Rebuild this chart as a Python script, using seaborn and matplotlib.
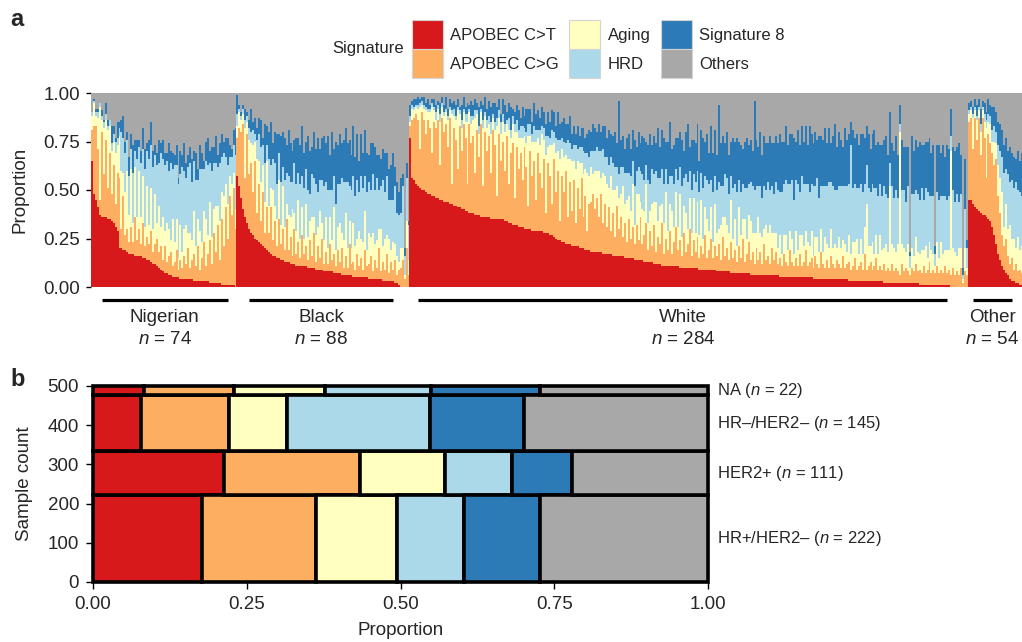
import numpy as np
import pandas as pd
import matplotlib
matplotlib.use("Agg")
import matplotlib.pyplot as plt
from matplotlib.patches import Patch
from matplotlib.transforms import blended_transform_factory
import seaborn as sns

# --- Panel a: per-sample signature proportions (percent) ---
# Nigerian (n = 74)
nig_ct = [65,48,45,41,37,36,36,36,35,35,34,33,31,29,20,20,19,19,18,17,17,17,16,16,16,16,15,15,14,14,
          13,12,12,11,10,9,8,7,7,6,6,5,5,5,5,4,4,4,4,4,4,4,3,3,3,3,3,3,3,3,2,2,2,2,2,2,1,1,1,1,1,1,1,0]
nig_cg = [16,35,38,30,8,44,22,40,16,34, 14,30,12,30,36,10,28,8,12,6, 14,6,20,8,14,6,18,6,12,8,
          16,6,10,14,8,12,6,14,6,10, 12,6,8,14,4,10,6,12,8,16, 6,10,14,8,18,6,12,20,8,14,
          22,10,26,16,30,12,34,20,40,24, 46,36,50,30]
nig_aging = [7,12,5,16,48,6,24,10,30,14, 22,12,26,14,22,30,12,22,30,14, 30,10,26,12,30,14,24,10,26,10,
             22,12,26,8,24,10,22,8,20,14, 6,24,10,16,6,18,8,14,20,8, 18,10,22,10,14,20,8,16,24,10,
             20,14,12,24,10,20,14,26,12,18, 10,16,8,10]
nig_hrd = [2,1,2,3,2,2,3,3,2,3, 4,4,6,4,4,20,18,20,16,20, 10,26,8,30,12,28,14,30,18,34,
           22,32,20,30,22,38,30,34,32,30, 40,26,40,28,38,26,44,30,24,34, 36,30,26,34,20,32,38,22,30,36,
           20,34,24,22,20,30,18,22,14,20, 10,14,14,28]
nig_sig8 = [0,1,2,2,0,3,1,6,3,0, 9,4,2,8,3,6,11,6,4,10, 8,14,6,10,4,6,11,10,4,10,
            12,8,5,6,12,5,10,6,4,14, 6,8,5,10,3,12,6,14,8,6, 8,12,5,14,6,12,8,4,10,14,
            6,12,8,14,6,10,12,6,10,14, 6,4,8,14]

# Black (n = 88)
blk_ct = [57,52,46,40,36,33,30,28,27,25, 24,23,22,21,20,19,18,17,16,16, 15,15,14,14,13,13,13,12,12,12,
          11,11,11,11,11,11,10,10,10,10, 9,9,9,9,8,8,8,8,8,7, 7,7,7,6,6,6,6,6,6,5,
          5,5,5,5,5,5,5,4,4,4, 4,4,4,4,3,3,3,3,3,3, 2,2,1,0,0,0,0,0]
blk_cg = [20,30,34,44,20,46,28,36,22,40, 14,30,12,28,8,22,10,24,8,18, 6,20,8,16,6,22,6,14,4,18,
          6,12,4,16,6,10,4,14,6,18, 4,12,6,16,4,10,4,14,6,10, 4,12,6,14,4,10,4,16,6,8,
          4,12,6,10,4,14,6,8,12,4, 10,6,16,4,10,6,14,4,10,6, 12,4,8,10,14,4,20,6]
blk_aging = [6,8,6,5,26,6,18,10,24,10, 28,12,20,14,16,24,14,10,26,8, 14,20,10,22,12,8,18,10,24,8,
             12,22,10,14,8,22,12,10,20,8, 14,10,24,8,12,18,8,14,10,24, 8,12,20,8,14,22,10,12,8,20,
             12,8,18,10,14,20,8,16,10,20, 8,14,10,22,8,16,10,18,6,14, 8,10,4,10,6,2,14,8]
blk_hrd = [6,2,2,3,4,3,6,6,8,4, 10,14,18,10,20,8,24,12,16,22, 18,14,22,10,24,16,20,18,14,26,
           24,14,28,16,26,18,24,14,22,20, 26,18,16,22,28,18,30,14,26,16, 24,22,20,28,30,16,34,18,30,24,
           26,30,20,32,28,18,30,26,24,30, 28,32,20,22,34,24,30,20,26,22, 30,22,24,18,32,10,22,18]
blk_sig8 = [10,2,2,2,6,2,4,12,4,8, 6,8,14,4,20,10,14,22,8,16, 26,10,24,18,22,14,24,20,16,12,
            24,18,20,26,18,14,28,22,14,24, 18,28,16,22,26,20,28,18,30,14, 32,20,26,18,22,28,20,24,18,26,
            20,24,16,22,18,24,20,14,24,16, 22,12,18,14,16,20,12,16,18,24, 10,16,12,18,6,4,8,2]

# White (n = 284)
wht_ct = [77,56,55,53,52,51,50,50,49,48, 48,47,47,46,46,45,45,44,44,44, 43,43,42,42,41,41,40,40,39,39,
          38,38,38,37,37,37,36,36,36,36, 36,35,35,35,35,35,35,35,34,34, 33,33,32,32,32,31,31,31,30,30,
          30,30,29,29,29,29,29,29,28,28, 28,27,27,26,25,24,24,23,23,22, 22,22,21,21,21,21,20,20,20,19,
          19,19,18,18,18,18,18,18,17,17, 17,17,17,16,16,16,16,16,16,15, 15,15,15,15,14,14,14,14,14,13,
          13,13,13,13,12,12,12,12,11,11, 11,11,11,11,11,11,11,10,10,10, 10,10,10,10,10,10,10,9,9,9,
          9,9,9,9,9,9,8,8,8,8, 8,8,8,7,7,7,7,7,7,7, 7,7,7,6,6,6,6,6,6,6,
          6,6,6,6,6,6,6,6,5,5, 5,5,5,5,5,5,5,5,5,5, 5,5,5,5,5,4,4,4,4,4,
          4,4,4,4,4,4,4,4,4,4, 4,4,4,3,3,3,3,3,3,3, 3,3,3,3,3,3,3,3,3,3,
          3,2,2,2,2,2,2,2,2,2, 2,2,2,2,2,2,2,2,2,1, 1,1,1,1,1,1,1,1,1,1,
          1,1,1,1,1,0,0,0,0,0, 0,0,0,0]
wht_cg = [6,30,32,36,34,20,40,36,30,38, 34,22,38,36,40,18,42,36,40,28, 44,10,40,34,20,42,30,44,38,14,
          46,36,40,22,44,30,48,16,44,34, 42,24,46,38,12,44,30,40,26,44, 20,36,42,14,40,30,38,24,42,32,
          12,40,28,36,16,40,30,22,38,10, 36,30,16,40,24,36,10,34,26,38, 14,32,18,34,12,30,20,36,16,28,
          10,24,26,30,22,28,18,30,16,26, 14,24,12,22,10,26,14,20,10,18, 8,20,10,16,8,18,10,22,8,14,
          20,6,16,8,20,6,14,10,22,6, 14,8,18,6,12,20,8,14,6,18, 8,12,20,6,14,8,16,6,12,8,
          18,6,10,16,6,12,8,14,6,18, 8,12,6,16,8,12,6,14,8,18, 6,10,16,8,12,6,14,8,12,6,
          16,8,10,6,14,8,12,6,10,6, 12,8,6,14,8,6,10,6,12,6, 8,14,6,8,10,6,12,8,6,14,
          8,6,10,6,12,8,6,10,8,6, 12,6,8,10,6,8,12,6,8,10, 6,14,6,8,10,6,8,12,6,8,
          6,10,6,8,6,10,6,8,6,4, 10,6,8,6,4,8,6,10,6,8, 6,10,6,8,12,6,8,6,10,6,
          8,6,10,6,8,6,10,6,8,6, 10,2,8,6]
wht_aging = [2,6,4,4,6,22,4,6,12,4, 8,24,6,4,6,22,6,8,6,14, 4,36,6,10,30,6,12,6,8,32,
             6,10,8,28,8,12,6,30,8,12, 6,20,6,8,36,8,14,10,20,6, 28,8,10,34,8,16,8,22,6,12,
             36,8,18,10,30,8,14,28,10,30, 8,16,30,8,20,10,32,14,18,8, 30,12,26,10,28,14,24,8,22,14,
             30,14,18,10,20,14,24,8,26,14, 22,10,28,12,24,10,16,12,26,10, 22,12,14,22,10,16,24,8,18,12,
             20,14,10,22,12,26,8,20,10,16, 24,10,14,22,8,18,12,24,10,14, 20,8,16,12,22,10,18,12,24,8,
             14,20,10,16,8,22,12,8,18,10, 20,12,14,22,10,16,8,20,12,10, 22,8,14,20,10,16,8,22,10,14,
             8,18,12,20,8,14,10,8,12,6, 10,14,8,10,12,6,14,8,10,16, 8,10,12,8,14,6,10,14,8,12,
             6,16,8,10,14,8,12,6,14,10, 8,12,6,14,8,12,8,16,6,12, 8,14,34,10,8,14,6,12,8,16,
             10,8,14,8,44,10,12,8,14,74, 10,12,8,14,4,10,8,14,10,8, 12,8,14,6,10,12,8,4,12,8,
             14,10,8,12,10,64,10,12,8,14, 10,2,12,4]
wht_hrd = [3,2,2,1,2,2,2,2,2,2, 2,2,2,4,2,4,2,2,2,2, 2,2,4,2,2,2,4,2,4,4,
           2,4,2,4,2,4,2,4,2,4, 4,6,2,4,4,4,6,4,4,2, 6,4,4,4,6,4,6,6,4,6,
           6,6,4,8,6,4,8,4,6,10, 6,4,8,6,8,6,10,6,8,6, 10,8,6,8,12,6,8,8,12,8,
           10,10,8,12,10,12,10,14,12,10, 14,12,10,14,12,10,12,14,10,16, 14,12,18,12,20,12,14,16,18,16,
           10,22,14,18,14,16,22,14,18,20, 12,24,14,18,22,12,24,14,26,14, 20,24,14,22,12,26,16,22,14,26,
           16,20,24,14,26,14,22,24,20,16, 22,24,20,12,26,18,28,14,22,18, 16,26,16,20,24,22,24,16,24,20,
           22,18,26,18,24,20,26,30,22,32, 26,28,34,24,30,28,26,34,22,30, 32,24,30,28,24,36,26,30,28,22,
           34,26,30,34,24,32,28,30,26,32, 28,30,34,26,56,28,30,26,34,28, 32,22,20,30,28,30,34,24,30,26,
           28,32,26,28,12,30,26,32,24,4, 28,30,26,30,6,28,32,24,30,28, 32,26,30,34,24,28,30,6,26,30,
           24,30,28,26,28,8,30,26,32,24, 28,2,20,10]
wht_sig8 = [6,2,4,3,4,2,2,4,2,5, 2,2,4,4,2,6,3,4,6,4, 4,4,4,6,4,2,8,6,4,6,
            2,8,6,6,4,10,4,8,8,6, 8,8,6,10,6,6,4,8,10,4, 8,12,4,6,8,10,4,10,6,12,
            8,8,6,12,8,10,6,10,8,6, 12,8,10,10,6,14,8,8,12,10, 8,14,8,10,6,12,6,10,12,8,
            10,14,10,14,12,8,14,10,12,16, 10,18,12,14,18,12,38,14,16,12, 18,20,14,16,24,12,18,14,20,22,
            12,18,26,12,20,14,26,16,20,24, 14,22,28,14,20,16,22,18,24,14, 22,30,12,26,18,20,24,16,22,26,
            18,24,16,28,20,24,18,40,22,26, 16,24,20,18,26,22,28,20,24,18, 24,26,20,22,18,46,24,20,28,22,
            26,24,20,28,22,26,24,24,30,26, 22,28,20,26,24,32,20,28,24,26, 22,30,20,34,26,22,28,20,32,26,
            24,30,22,28,20,26,34,22,28,24, 20,30,24,26,12,30,24,28,22,26, 30,24,20,28,22,26,30,22,28,20,
            26,24,30,22,26,22,24,28,22,10, 26,22,28,20,2,30,22,26,24,30, 22,28,24,26,30,22,26,4,24,28,
            22,26,20,28,24,14,22,26,24,30, 20,4,26,4]

# Other (n = 54; the right part of this group is cut off by the figure edge)
oth_ct = [45,45,43,41,40,39,38,37,37,36, 35,34,31,27,22,17,14,11,9,7, 6,4,3,3,2,2,1,1,1,1,
          1,1,1,0,0,0,0,0,0,0, 0,0,0,0,0,0,0,0,0,0, 0,0,0,0]
oth_cg = [40,42,28,46,36,48,30,50,40,20, 44,40,38,36,44,30,24,16,12,18, 10,8,12,6,10,6,8,6,10,6,
          8,6,10,6,8,6,10,6,8,6, 10,6,8,6,10,6,8,6,10,6, 8,6,10,6]
oth_aging = [4,4,16,4,10,4,12,4,8,26, 6,10,6,12,8,16,18,22,10,18, 14,20,10,16,8,18,10,14,10,14,
             10,16,8,12,14,10,12,8,14,10, 12,8,16,10,12,8,14,10,12,8, 14,10,12,8]
oth_hrd = [2,2,2,2,2,2,4,2,4,4, 4,4,6,8,6,10,14,18,28,18, 28,22,30,26,34,24,30,26,28,30,
           26,28,30,26,28,30,24,32,26,28, 24,30,26,28,24,30,26,28,24,30, 26,28,24,30]
oth_sig8 = [4,3,4,4,6,4,8,3,6,4, 8,6,12,10,10,12,14,14,14,16, 12,18,14,16,12,20,16,22,18,20,
            22,18,20,24,18,22,20,18,22,20, 24,18,20,22,18,20,22,18,20,22, 18,20,22,18]

groups = ["Nigerian", "Black", "White", "Other"]
group_n = [74, 88, 284, 54]
# where the black underline under each group label starts / ends (sample index)
line_start = [5, 80, 166, 448]
line_end = [69, 153, 435, 468]

# --- Panel b: mean signature proportions by subtype ---
subtypes = ["HR+/HER2–", "HER2+", "HR–/HER2–", "NA"]
subtype_n = [222, 111, 145, 22]
b_ct = [0.177, 0.213, 0.078, 0.083]
b_cg = [0.186, 0.221, 0.143, 0.147]
b_aging = [0.131, 0.139, 0.094, 0.148]
b_hrd = [0.110, 0.108, 0.233, 0.171]
b_sig8 = [0.123, 0.098, 0.152, 0.178]
b_others = [0.273, 0.221, 0.300, 0.273]

sig_names = ["APOBEC C>T", "APOBEC C>G", "Aging", "HRD", "Signature 8", "Others"]
palette = {"APOBEC C>T": "#D7191C", "APOBEC C>G": "#FDAE61", "Aging": "#FFFFBF",
           "HRD": "#ABD9E9", "Signature 8": "#2C7BB6", "Others": "#A8A8A8"}

# ---------------------------------------------------------------------------
sns.set_style("ticks")
plt.rcParams["font.family"] = ["Liberation Sans", "DejaVu Sans"]
plt.rcParams["mathtext.fontset"] = "custom"
plt.rcParams["mathtext.it"] = "Liberation Sans:italic"
plt.rcParams["mathtext.rm"] = "Liberation Sans"

ct = nig_ct + blk_ct + wht_ct + oth_ct
cg = nig_cg + blk_cg + wht_cg + oth_cg
aging = nig_aging + blk_aging + wht_aging + oth_aging
hrd = nig_hrd + blk_hrd + wht_hrd + oth_hrd
sig8 = nig_sig8 + blk_sig8 + wht_sig8 + oth_sig8
for arr in (ct, cg, aging, hrd, sig8):
    assert len(arr) == sum(group_n), len(arr)
others = [max(0, 100 - a - b - c - d - e) for a, b, c, d, e in zip(ct, cg, aging, hrd, sig8)]

long_rows = []
for name, vals in zip(sig_names, [ct, cg, aging, hrd, sig8, others]):
    for i, v in enumerate(vals):
        long_rows.append((i, name, v / 100.0))
df = pd.DataFrame(long_rows, columns=["sample", "signature", "proportion"])

W, H = 1022, 642
fig = plt.figure(figsize=(W / 100, H / 100), dpi=100)
fig.patch.set_facecolor("white")

# panel a axes is wider than the figure: the "Other" group runs off the right edge
ax_a = fig.add_axes([91 / W, (H - 287) / H, 983 / W, 194 / H])
sns.histplot(data=df, x="sample", weights="proportion", hue="signature",
             hue_order=sig_names[::-1], palette=palette, multiple="stack",
             discrete=True, shrink=1, element="bars", alpha=1, linewidth=0,
             antialiased=False, legend=False, ax=ax_a)
ax_a.set_xlim(-0.5, sum(group_n) - 0.5)
ax_a.set_ylim(0, 1)
ax_a.set_xticks([])
ax_a.set_yticks([0, 0.25, 0.5, 0.75, 1.0])
ax_a.set_yticklabels(["0.00", "0.25", "0.50", "0.75", "1.00"])
ax_a.tick_params(axis="y", labelsize=13.5, length=3.5, width=1, pad=4.5, color="black")
ax_a.set_xlabel("")
ax_a.set_ylabel("Proportion", fontsize=13.5)
ax_a.yaxis.set_label_coords(-0.064, 0.5)
for s in ax_a.spines.values():
    s.set_visible(False)

trans = blended_transform_factory(ax_a.transData, ax_a.transAxes)
for g, n, x0, x1 in zip(groups, group_n, line_start, line_end):
    ax_a.plot([x0, x1], [-0.067, -0.067], color="black", lw=2.3, transform=trans,
              clip_on=False, solid_capstyle="butt")
    xc = (x0 + x1) / 2
    ax_a.text(xc, -0.155, g, transform=trans, ha="center", va="center", fontsize=13.5)
    ax_a.text(xc, -0.273, r"$n$ = %d" % n, transform=trans, ha="center", va="center",
              fontsize=13.5)

# legend (three columns of two swatches that touch each other)
handles = [Patch(facecolor=palette[s], edgecolor="#d4d4d4", linewidth=0.8) for s in sig_names]
fig.legend(handles, sig_names, ncol=3, loc="upper left",
           bbox_to_anchor=(412 / W, 1 - 20 / H), frameon=False, borderpad=0,
           borderaxespad=0, handlelength=1.86, handleheight=2.3, handletextpad=0.45,
           labelspacing=0, columnspacing=0.6, fontsize=12)
fig.text(404 / W, 1 - 48 / H, "Signature", ha="right", va="center", fontsize=12)

# panel b: mosaic of subtypes
ax_b = fig.add_axes([93 / W, (H - 582) / H, 615 / W, 196 / H])
bottoms = np.cumsum([0] + subtype_n[:-1])
lefts = np.zeros(len(subtypes))
for name, vals in zip(sig_names, [b_ct, b_cg, b_aging, b_hrd, b_sig8, b_others]):
    ax_b.barh(bottoms, vals, left=lefts, height=subtype_n, align="edge",
              color=palette[name], edgecolor="black", linewidth=2.6, clip_on=False)
    lefts = lefts + np.array(vals)
ax_b.set_xlim(0, 1)
ax_b.set_ylim(0, 500)
ax_b.set_xticks([0, 0.25, 0.5, 0.75, 1.0])
ax_b.set_xticklabels(["0.00", "0.25", "0.50", "0.75", "1.00"])
ax_b.set_yticks([0, 100, 200, 300, 400, 500])
ax_b.tick_params(labelsize=13.5, length=5, width=1, pad=5, color="black")
for s in ax_b.spines.values():
    s.set_visible(False)
ax_b.set_xlabel("Proportion", fontsize=13.5)
ax_b.xaxis.set_label_coords(0.5, -0.205)
ax_b.set_ylabel("Sample count", fontsize=13.5)
ax_b.yaxis.set_label_coords(-0.098, 0.5)
transb = blended_transform_factory(ax_b.transAxes, ax_b.transData)
for st, n, b0 in zip(subtypes, subtype_n, bottoms):
    ax_b.text(1.0146, b0 + n / 2, st + r" ($n$ = %d)" % n, transform=transb,
              ha="left", va="center", fontsize=12)

fig.text(10 / W, 1 - 19 / H, "a", fontsize=17, fontweight="bold", va="center", ha="left")
fig.text(10 / W, 1 - 380 / H, "b", fontsize=17, fontweight="bold", va="center", ha="left")

fig.savefig("out.png", dpi=100)
